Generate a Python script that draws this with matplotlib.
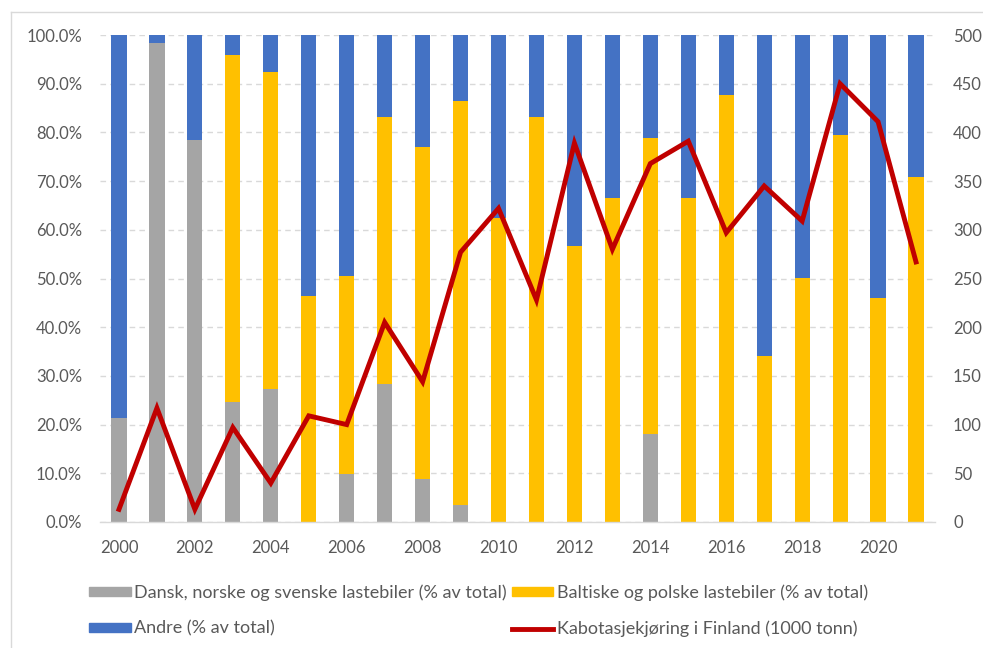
import matplotlib
matplotlib.use("Agg")
import matplotlib.pyplot as plt
import numpy as np
from matplotlib.ticker import FuncFormatter, MultipleLocator
from matplotlib.patches import Rectangle
from matplotlib.lines import Line2D

years = list(range(2000, 2022))
nordic = [21.4, 98.3, 78.5, 24.6, 27.4, 0, 9.8, 28.4, 8.9, 3.4, 0, 0, 0, 0, 18.1, 0, 0, 0, 0, 0, 0, 0]
baltic_top = [21.4, 98.3, 78.5, 95.8, 92.3, 46.5, 50.6, 83.2, 77.0, 86.5, 62.4, 83.2, 56.7, 66.6, 78.9, 66.6, 87.7, 34.0, 50.1, 79.5, 45.9, 70.9]
baltic = [t - n for t, n in zip(baltic_top, nordic)]
andre = [100 - t for t in baltic_top]
kabotasje = [13, 117, 13, 97, 40, 109, 100, 205, 144, 277, 322, 228, 389, 280, 368, 391, 297, 345, 309, 450, 411, 267]

labels = ["Dansk, norske og svenske lastebiler (% av total)",
          "Baltiske og polske lastebiler (% av total)",
          "Andre (% av total)",
          "Kabotasjekjøring i Finland (1000 tonn)"]

C_GRAY = "#A5A5A5"
C_YEL = "#FFC000"
C_BLUE = "#4472C4"
C_RED = "#C00000"
TXT = "#595959"

plt.rcParams['font.family'] = ['Lato', 'DejaVu Sans']

W, H = 983, 648
fig = plt.figure(figsize=(W/100, H/100), dpi=100)
ax = fig.add_axes([100/W, 1-522/H, 835/W, 487/H])
x = np.arange(len(years))
w = 0.4
ax.bar(x, nordic, w, color=C_GRAY, zorder=2)
ax.bar(x, baltic, w, bottom=nordic, color=C_YEL, zorder=2)
ax.bar(x, andre, w, bottom=baltic_top, color=C_BLUE, zorder=2)
ax.set_xlim(-0.5, len(years) - 0.5)
ax.set_ylim(0, 100)
ax.yaxis.set_major_locator(MultipleLocator(10))
ax.yaxis.set_major_formatter(FuncFormatter(lambda v, p: f"{v:.1f}%"))
ax.set_xticks(x[::2])
ax.set_xticklabels([str(y) for y in years[::2]])
ax.grid(axis='y', color='#D9D9D9', linestyle=(0, (4, 3)), linewidth=1, zorder=0)
for s in ['top', 'right', 'left']:
    ax.spines[s].set_visible(False)
ax.spines['bottom'].set_color('#D9D9D9')
ax.spines['bottom'].set_linewidth(1)
ax.tick_params(axis='both', length=0, colors=TXT, labelsize=12)
ax.tick_params(axis='y', pad=13)
ax.tick_params(axis='x', pad=13)

ax2 = ax.twinx()
ax2.plot(x, kabotasje, color=C_RED, linewidth=3.5, zorder=3, solid_joinstyle='miter')
ax2.set_ylim(0, 500)
ax2.yaxis.set_major_locator(MultipleLocator(50))
for s in ['top', 'right', 'left', 'bottom']:
    ax2.spines[s].set_visible(False)
ax2.tick_params(axis='y', length=0, colors=TXT, labelsize=12, pad=13)

handles = [Rectangle((0, 0), 1, 1, color=C_GRAY), Rectangle((0, 0), 1, 1, color=C_YEL),
           Rectangle((0, 0), 1, 1, color=C_BLUE), Line2D([], [], color=C_RED, linewidth=3.5)]
order = [0, 2, 1, 3]
leg = fig.legend([handles[i] for i in order], [labels[i] for i in order], ncol=2,
                 loc='upper left', bbox_to_anchor=(73/W, 1-568/H), frameon=False,
                 prop={'size': 13},
                 labelcolor=TXT, handlelength=2.3, handleheight=0.45,
                 handletextpad=0.2, columnspacing=0.25, labelspacing=1.1)

fig.add_artist(Line2D([10.5/W, 10.5/W], [0, 1-12/H], transform=fig.transFigure, color='#D9D9D9', linewidth=1))
fig.add_artist(Line2D([10.5/W, 1], [1-12/H, 1-12/H], transform=fig.transFigure, color='#D9D9D9', linewidth=1))
fig.savefig("out.png", dpi=100)
